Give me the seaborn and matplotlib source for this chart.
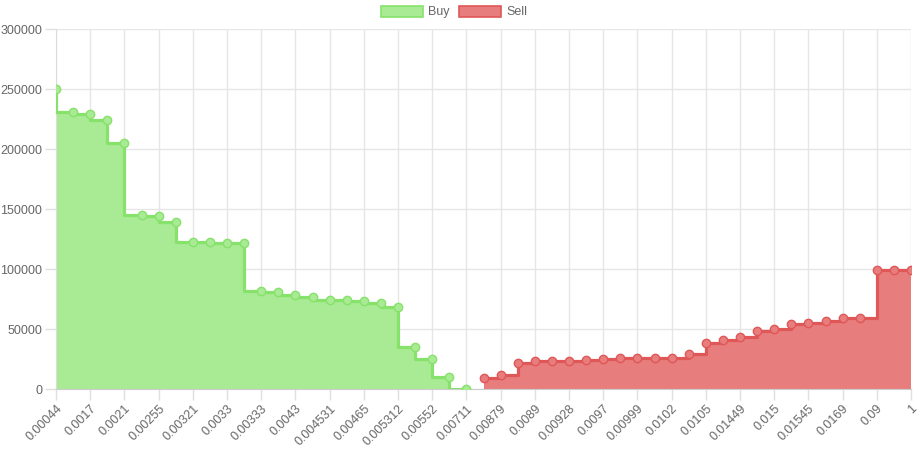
import numpy as np
import pandas as pd
import seaborn as sns
from matplotlib import pyplot as plt
from matplotlib.patches import Patch

# visible x tick labels (every other price level is labelled)
tick_labels = ['0.00044', '0.0017', '0.0021', '0.00255', '0.00321', '0.0033', '0.00333',
               '0.0043', '0.004531', '0.00465', '0.005312', '0.00552', '0.00711', '0.00879',
               '0.0089', '0.00928', '0.0097', '0.00999', '0.0102', '0.0105', '0.01449',
               '0.015', '0.01545', '0.0169', '0.09', '1']

buy = [250000, 230500, 229000, 224000, 205000, 145000, 144000, 139500, 122500, 122500,
       122000, 121500, 82000, 81000, 78000, 77000, 74500, 74000, 73000, 72000,
       68000, 35000, 25000, 10000, 0]
sell = [9000, 12000, 22000, 23000, 23000, 23500, 24500, 25000, 26000, 26000,
        26000, 26000, 29000, 38500, 41000, 43000, 48000, 50000, 54000, 55000,
        56500, 59000, 59000, 99500, 99500, 99500]

buy_df = pd.DataFrame({'pos': np.arange(len(buy)), 'amount': buy})
sell_df = pd.DataFrame({'pos': np.arange(len(buy), len(buy) + len(sell)), 'amount': sell})

buy_line, buy_fill = '#86e26b', '#a9ea94'
sell_line, sell_fill = '#e05757', '#e77d7d'
grey = '#666666'

sns.set_style('white')
plt.rcParams['font.family'] = ['Liberation Sans', 'DejaVu Sans']

fig = plt.figure(figsize=(9.22, 4.49), dpi=100)
ax = fig.add_axes([56 / 922, 60 / 449, 855 / 922, 360 / 449])

# bids step "before", asks step "after"
series = [(buy_df, buy_line, buy_fill, 'pre'), (sell_df, sell_line, sell_fill, 'post')]
for df, lc, fc, step in series:
    ax.fill_between(df['pos'], df['amount'], 0, step=step, color=fc, linewidth=0, zorder=2)
    sns.lineplot(data=df, x='pos', y='amount', ax=ax, color=lc, linewidth=2.3,
                 drawstyle='steps-' + step, marker='o', markersize=6,
                 markerfacecolor=fc, markeredgecolor=lc, markeredgewidth=1, zorder=3)

n = len(buy) + len(sell)
ax.set_xlim(0, n - 1)
ax.set_ylim(0, 300000)
ax.set_xticks(np.arange(0, n, 2))
ax.set_xticklabels(tick_labels, rotation=45, ha='right', rotation_mode='anchor')
ax.set_yticks(np.arange(0, 300001, 50000))
ax.set_yticklabels([str(v) for v in range(0, 300001, 50000)])
ax.set_xlabel('')
ax.set_ylabel('')

ax.grid(True, color='#e6e6e6', linewidth=1, zorder=0)
ax.set_axisbelow(True)
for s in ['top', 'right']:
    ax.spines[s].set_visible(False)
ax.spines['left'].set_color('#dcdcdc')
ax.spines['bottom'].set_color('#cccccc')
ax.tick_params(axis='both', colors='#e0e0e0', labelcolor=grey, labelsize=9,
               length=8, width=1, pad=2, direction='out', bottom=True, left=True)

handles = [Patch(facecolor=buy_fill, edgecolor=buy_line, linewidth=1.2, label='Buy'),
           Patch(facecolor=sell_fill, edgecolor=sell_line, linewidth=1.2, label='Sell')]
fig.legend(handles=handles, loc='center', bbox_to_anchor=(454 / 922, 1 - 12 / 449),
           ncol=2, frameon=False, fontsize=9, labelcolor=grey, handlelength=3.4,
           handleheight=1.0, handletextpad=0.4, columnspacing=0.7, borderpad=0)

fig.savefig('out.png', dpi=100)
